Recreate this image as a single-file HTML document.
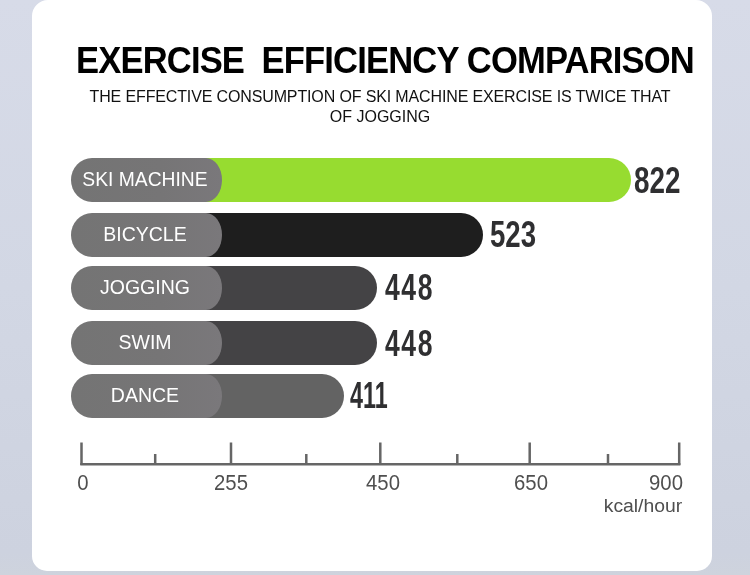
<!DOCTYPE html>
<html lang="en">
<head>
<meta charset="utf-8">
<title>Exercise Efficiency Comparison</title>
<style>
*{box-sizing:border-box;margin:0;padding:0}
html,body{width:750px;height:575px;overflow:hidden}
body{position:relative;font-family:"Liberation Sans",sans-serif;
  background:linear-gradient(180deg,#d7dbe8 0%,#d2d7e4 50%,#cdd2df 96%,#ced3dd 100%);}
.card{position:absolute;left:32px;top:0;width:680px;height:570.5px;background:#fff;border-radius:16px 16px 15px 15px;}
h1{position:absolute;left:76px;top:39.3px;font-weight:bold;font-size:36.8px;line-height:44px;color:#000;white-space:pre;letter-spacing:-0.9px;transform-origin:0 0;transform:scaleX(0.9395)}
.sub{position:absolute;left:80px;top:87px;width:600px;text-align:center;font-size:16px;line-height:19.5px;color:#111;}
.sub span{letter-spacing:-0.135px}
.bar{position:absolute;left:150px;height:44px;border-radius:0 22px 22px 0;}
.pill{position:absolute;left:71px;width:151px;height:44px;border-radius:21px 16px 16px 21px / 22px;background:linear-gradient(90deg,#747474 0%,#767576 60%,#7a787b 100%);}
.lab{position:absolute;left:45px;width:200px;height:44px;color:#fff;font-size:20.4px;line-height:44px;text-align:center;white-space:nowrap;transform:scaleX(0.957)}
.num{position:absolute;font-weight:bold;font-size:37.6px;line-height:40px;color:#2f2f31;transform-origin:0 0;white-space:nowrap}
.axis{position:absolute;left:0;top:0}
.tick{position:absolute;font-size:21.5px;line-height:22px;color:#4f4f4f;width:60px;text-align:center;transform:scaleX(0.945)}
.unit{position:absolute;font-size:18.8px;line-height:22px;color:#4f4f4f;right:68px;top:495px;text-align:right;transform-origin:100% 0;transform:scaleX(1.03)}
</style>
</head>
<body>
<div class="card"></div>
<h1>EXERCISE  EFFICIENCY COMPARISON</h1>
<p class="sub"><span>THE EFFECTIVE CONSUMPTION OF SKI MACHINE EXERCISE IS TWICE THAT</span><br>OF JOGGING</p>

<div class="bar" style="top:158px;width:481px;background:#97dc30"></div>
<div class="pill" style="top:158px"></div>
<div class="lab" style="top:156.8px;transform:scaleX(0.945)">SKI MACHINE</div>
<div class="num" style="left:634px;top:159.5px;transform:scaleX(0.74)">822</div>

<div class="bar" style="top:213px;width:333px;background:#1e1e1e"></div>
<div class="pill" style="top:213px"></div>
<div class="lab" style="top:211.7px">BICYCLE</div>
<div class="num" style="left:489.8px;top:214.1px;transform:scaleX(0.734)">523</div>

<div class="bar" style="top:266px;width:227px;background:#444345"></div>
<div class="pill" style="top:266px"></div>
<div class="lab" style="top:264.8px">JOGGING</div>
<div class="num" style="left:384.6px;top:267.1px;letter-spacing:2.3px;transform:scaleX(0.705)">448</div>

<div class="bar" style="top:321px;width:227px;background:#444345"></div>
<div class="pill" style="top:321px"></div>
<div class="lab" style="top:319.8px">SWIM</div>
<div class="num" style="left:384.6px;top:322.8px;letter-spacing:2.3px;transform:scaleX(0.705)">448</div>

<div class="bar" style="top:374px;width:194px;background:#636363"></div>
<div class="pill" style="top:374px"></div>
<div class="lab" style="top:372.8px">DANCE</div>
<div class="num" style="left:349.6px;top:374.8px;transform:scaleX(0.62)">411</div>

<svg class="axis" width="750" height="575" viewBox="0 0 750 575">
  <g stroke="#666" stroke-width="2.5" fill="none">
    <path d="M80.3 464.2H680.4"/>
    <path d="M81.5 442.5V465M231 442.5V465M380.3 442.5V465M529.7 442.5V465M679.2 442.5V465"/>
    <path d="M155.2 454V465M306.3 454V465M457.3 454V465M608 454V465"/>
  </g>
</svg>
<div class="tick" style="left:52.7px;top:472px">0</div>
<div class="tick" style="left:201.2px;top:472px">255</div>
<div class="tick" style="left:352.9px;top:472px">450</div>
<div class="tick" style="left:500.9px;top:472px">650</div>
<div class="tick" style="left:635.8px;top:472px">900</div>
<div class="unit">kcal/hour</div>
</body>
</html>
